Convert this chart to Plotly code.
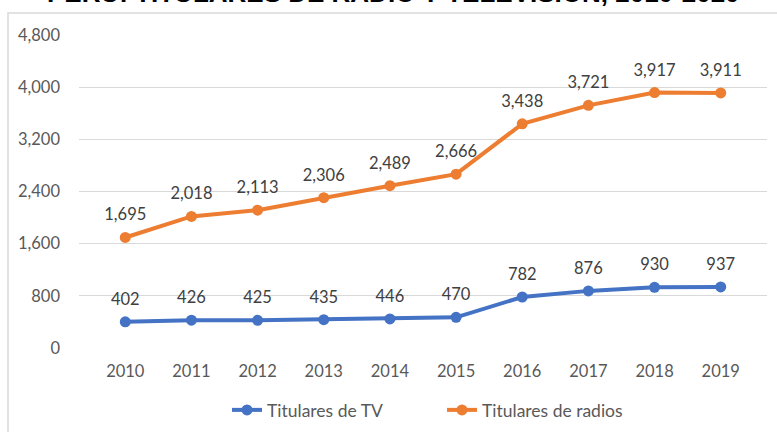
import plotly.graph_objects as go

years = ["2010", "2011", "2012", "2013", "2014", "2015", "2016", "2017", "2018", "2019"]
tv = [402, 426, 425, 435, 446, 470, 782, 876, 930, 937]
radios = [1695, 2018, 2113, 2306, 2489, 2666, 3438, 3721, 3917, 3911]
y_ticks = [0, 800, 1600, 2400, 3200, 4000, 4800]
title_text = "PERÚ: TITULARES DE RADIO Y TELEVISIÓN, 2010-2020"

FONT = "Lato"
FS = 16.5
W, H = 777, 432
L, R, T, B = 79, 10, 35, 84
pw, ph = W - L - R, H - T - B


def px_x(x):
    return (x - L) / pw


def px_y(y):
    return (H - B - y) / ph


fig = go.Figure()
for name, vals, color in [("Titulares de TV", tv, "#4472C4"),
                          ("Titulares de radios", radios, "#ED7D31")]:
    fig.add_trace(go.Scatter(
        x=years, y=vals, name=name, mode="lines+markers",
        line=dict(color=color, width=4),
        marker=dict(color=color, size=11),
        cliponaxis=False,
    ))
    # data labels (transparent larger marker gives the label offset)
    fig.add_trace(go.Scatter(
        x=years, y=vals, mode="markers+text", showlegend=False, hoverinfo="skip",
        marker=dict(color="rgba(0,0,0,0)", size=19),
        text=[f"{v:,}" for v in vals], textposition="top center",
        textfont=dict(family=FONT, size=FS, color="#404040"),
        cliponaxis=False,
    ))

fig.update_layout(
    width=W, height=H,
    margin=dict(l=L, r=R, t=T, b=B, autoexpand=False),
    paper_bgcolor="white", plot_bgcolor="white",
    font=dict(family=FONT, size=FS, color="#595959"),
    showlegend=True,
    legend=dict(orientation="h", x=px_x(442), xanchor="center",
                y=px_y(410), yanchor="middle",
                font=dict(family=FONT, size=17.5, color="#595959"),
                entrywidth=170, bgcolor="rgba(0,0,0,0)"),
    xaxis=dict(type="category", showgrid=False, showline=False, zeroline=False,
               ticks="", ticklabelstandoff=11,
               tickfont=dict(family=FONT, size=FS, color="#595959")),
    yaxis=dict(range=[0, 4800], tickvals=y_ticks, tickformat=",d",
               showgrid=True, gridcolor="#D9D9D9", gridwidth=1,
               zeroline=False, showline=False, ticks="",
               ticklabelstandoff=18,
               tickfont=dict(family=FONT, size=FS, color="#595959")),
    shapes=[dict(type="rect", xref="paper", yref="paper",
                 x0=px_x(8), x1=px_x(790), y0=px_y(13), y1=px_y(445),
                 line=dict(color="#D9D9D9", width=1.5), layer="above")],
    annotations=[dict(text=f"<b>{title_text}</b>", xref="paper", yref="paper",
                      x=px_x(393), y=px_y(-7), xanchor="center", yanchor="middle",
                      showarrow=False,
                      font=dict(family="Liberation Sans", size=26, color="black"))],
)

fig.write_html("out.html", config={"displayModeBar": False},
               post_script="document.body.style.margin='0px';")
